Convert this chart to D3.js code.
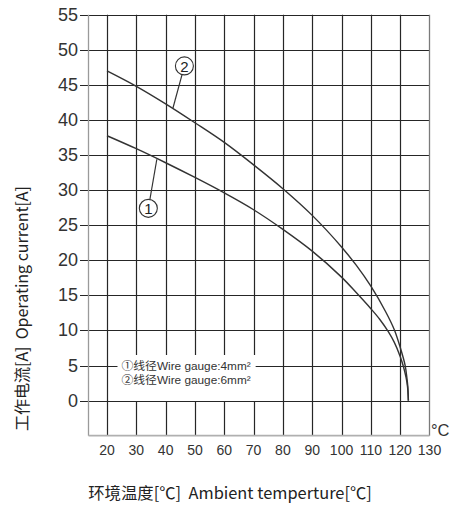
<!DOCTYPE html>
<html>
<head>
<meta charset="utf-8">
<script src="https://cdn.jsdelivr.net/npm/d3@7"></script>
<style>
  html, body { margin: 0; padding: 0; background: #fff; }
  svg { display: block; }
  text { white-space: pre; }
</style>
</head>
<body>
<svg id="chart" width="450" height="506"></svg>
<script>
// ---------------- data ----------------
const xTicks = [20, 30, 40, 50, 60, 70, 80, 90, 100, 110, 120, 130];
const yTicks = [0, 5, 10, 15, 20, 25, 30, 35, 40, 45, 50, 55];

// Curve ① : wire gauge 4 mm²
const temp1 = [20, 30, 40, 50, 60, 70, 80, 90, 100, 105, 110, 113, 116, 118, 120, 121, 122, 122.5, 122.8];
const curr1 = [37.75, 35.9, 33.9, 31.8, 29.6, 27.2, 24.4, 21.3, 17.6, 15.4, 13.1, 11.6, 9.8, 8.3, 6.3, 5.0, 3.3, 2.0, 0];

// Curve ② : wire gauge 6 mm²
const temp2 = [20, 30, 40, 50, 60, 70, 80, 90, 100, 105, 110, 115, 118, 120, 121.7, 122.3, 122.6, 122.8];
const curr2 = [47.0, 44.8, 42.3, 39.6, 36.8, 33.6, 30.2, 26.4, 21.9, 19.3, 16.3, 12.7, 10.1, 7.6, 5.0, 3.2, 2.0, 0];

// Callout markers (label, circle centre [°C, A], pointer end on curve [°C, A])
const calloutLabels = ["1", "2"];
const calloutCentre = [[34.1, 27.4], [46.4, 47.7]];
const calloutTarget = [[37, 34.4], [42.5, 41.7]];

const legendLines = ["①线径Wire gauge:4mm²", "②线径Wire gauge:6mm²"];
const xTitle = "环境温度[℃]  Ambient temperture[℃]";
const yTitle = "工作电流[A]  Operating current[A]";
const unitLabel = "°C";
const legendGapCols = [30, 40, 50, 60, 70];

// ---------------- layout ----------------
const svg = d3.select("#chart");
const pL = 88.5, pR = 429.5, pT = 14.7, pB = 435.7;
const x = d3.scaleLinear().domain([20, 130]).range([107, 429.5]);
const y = d3.scaleLinear().domain([-5, 55]).range([pB, pT]);

const gridColor = "#262626";
const txtColor = "#333";
const cjk = "'Noto Sans CJK SC', 'Noto Sans', sans-serif";
const latin = "'Liberation Sans', Arial, sans-serif";

// horizontal grid lines (with short tick stubs on the left)
svg.append("g").selectAll("line").data(yTicks).join("line")
  .attr("x1", 80).attr("x2", pR)
  .attr("y1", d => Math.round(y(d)) + 0.5).attr("y2", d => Math.round(y(d)) + 0.5)
  .attr("stroke", gridColor).attr("stroke-width", 1.2);

// vertical grid lines (gap behind legend)
const legendTop = 355;
const vg = svg.append("g");
xTicks.filter(d => d < 130).forEach(d => {
  const xx = Math.round(x(d)) + 0.5;
  if (legendGapCols.includes(d)) {
    vg.append("line").attr("x1", xx).attr("x2", xx).attr("y1", pT).attr("y2", legendTop)
      .attr("stroke", gridColor).attr("stroke-width", 1.2);
    vg.append("line").attr("x1", xx).attr("x2", xx).attr("y1", Math.round(y(0)) + 0.5).attr("y2", pB)
      .attr("stroke", gridColor).attr("stroke-width", 1.2);
  } else {
    vg.append("line").attr("x1", xx).attr("x2", xx).attr("y1", pT).attr("y2", pB)
      .attr("stroke", gridColor).attr("stroke-width", 1.2);
  }
});

// frame
svg.append("line").attr("x1", pL).attr("x2", pL).attr("y1", pT).attr("y2", pB)
  .attr("stroke", "#9a9a9a").attr("stroke-width", 1.3);
svg.append("line").attr("x1", pR).attr("x2", pR).attr("y1", pT).attr("y2", pB)
  .attr("stroke", "#7a7a7a").attr("stroke-width", 1.3);
svg.append("line").attr("x1", pL).attr("x2", pR).attr("y1", pB).attr("y2", pB)
  .attr("stroke", "#b0b0b0").attr("stroke-width", 1.8);

// y tick labels
svg.append("g").selectAll("text").data(yTicks).join("text")
  .attr("x", 78).attr("y", d => y(d))
  .attr("text-anchor", "end").attr("dominant-baseline", "central")
  .attr("font-family", latin).attr("font-size", 18).attr("fill", txtColor)
  .text(d => d);

// x tick labels
svg.append("g").selectAll("text").data(xTicks).join("text")
  .attr("x", d => x(d)).attr("y", 455)
  .attr("text-anchor", "middle")
  .attr("font-family", latin).attr("font-size", 14).attr("fill", txtColor)
  .text(d => d);

// unit label
svg.append("text").attr("x", 431).attr("y", 436)
  .attr("font-family", latin).attr("font-size", 16.5).attr("fill", txtColor)
  .text(unitLabel);

// curves
const line = d3.line().x(d => x(d[0])).y(d => y(d[1])).curve(d3.curveCatmullRom.alpha(0.5));
const series = [d3.zip(temp1, curr1), d3.zip(temp2, curr2)];
svg.append("g").selectAll("path").data(series).join("path")
  .attr("d", line).attr("fill", "none")
  .attr("stroke", "#333").attr("stroke-width", 1.4);

// callouts
const rad = 9;
calloutLabels.forEach((lab, i) => {
  const cx = x(calloutCentre[i][0]), cy = y(calloutCentre[i][1]);
  const tx = x(calloutTarget[i][0]), ty = y(calloutTarget[i][1]);
  const ang = Math.atan2(ty - cy, tx - cx);
  svg.append("line")
    .attr("x1", cx + rad * Math.cos(ang)).attr("y1", cy + rad * Math.sin(ang))
    .attr("x2", tx).attr("y2", ty)
    .attr("stroke", "#333").attr("stroke-width", 1.2);
  svg.append("circle").attr("cx", cx).attr("cy", cy).attr("r", rad)
    .attr("fill", "#fff").attr("stroke", "#333").attr("stroke-width", 1.1);
  svg.append("text").attr("x", cx).attr("y", cy + 0.5)
    .attr("text-anchor", "middle").attr("dominant-baseline", "central")
    .attr("font-family", latin).attr("font-size", 15).attr("fill", "#222")
    .text(lab);
});

// legend (white backing behind first line interrupts the 5 A grid line)
const lg = svg.append("g");
const lgX = 121.5, lgY = y(5);
const backing = lg.append("rect").attr("fill", "#fff");
const lgText = lg.append("text")
  .attr("font-family", "'Liberation Sans', 'Noto Sans CJK SC', sans-serif")
  .attr("font-size", 11.8).attr("fill", txtColor);
legendLines.forEach((t, i) => {
  lgText.append("tspan").attr("x", lgX).attr("y", lgY + i * 14 + 4.3).text(t);
});
const firstLen = lgText.select("tspan").node().getComputedTextLength();
backing.attr("x", lgX - 4).attr("y", lgY - 5).attr("width", firstLen + 9).attr("height", 10);

// axis titles
svg.append("text").attr("x", 230).attr("y", 492)
  .attr("text-anchor", "middle").attr("dominant-baseline", "central")
  .attr("font-family", cjk).attr("font-size", 16.4).attr("fill", "#222")
  .text(xTitle);
svg.append("text")
  .attr("transform", "translate(21,308.5) rotate(-90)")
  .attr("text-anchor", "middle").attr("dominant-baseline", "central")
  .attr("font-family", cjk).attr("font-size", 16).attr("fill", "#222")
  .text(yTitle);
</script>
</body>
</html>
